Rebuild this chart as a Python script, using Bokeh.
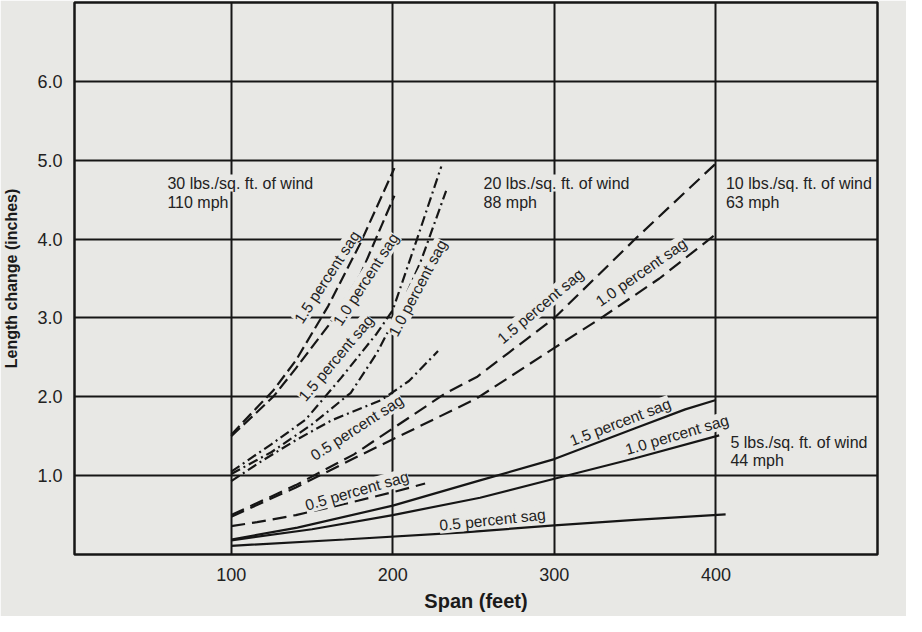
from bokeh.plotting import figure
from bokeh.models import ColumnDataSource, LabelSet, FixedTicker, Range1d
from bokeh.core.properties import value
from bokeh.embed import file_html
from bokeh.resources import INLINE

# ---------------- data ----------------
x_ticks = [100, 200, 300, 400]
x_tick_labels = ["100", "200", "300", "400"]
y_ticks = [1.0, 2.0, 3.0, 4.0, 5.0, 6.0]
y_tick_labels = ["1.0", "2.0", "3.0", "4.0", "5.0", "6.0"]

# 30 lbs./sq. ft. (110 mph) - long dash
w30_s15_x = [100, 126, 140, 160, 180, 201]
w30_s15_y = [1.52, 2.08, 2.46, 3.15, 3.95, 4.90]
w30_s10_x = [100, 126, 140, 160, 180, 201]
w30_s10_y = [1.50, 2.00, 2.36, 2.90, 3.55, 4.55]

# 20 lbs./sq. ft. (88 mph) - dash-dot
w20_s15_x = [100, 125, 146, 168, 190, 200, 215, 230]
w20_s15_y = [1.05, 1.40, 1.71, 2.24, 2.80, 3.10, 4.00, 4.92]
w20_s10_x = [100, 125, 150, 174, 190, 204, 217, 233]
w20_s10_y = [1.02, 1.30, 1.65, 2.05, 2.55, 3.10, 3.70, 4.61]
w20_s05_x = [100, 120, 140, 162, 193, 210, 228]
w20_s05_y = [0.93, 1.20, 1.45, 1.70, 1.96, 2.20, 2.58]

# 10 lbs./sq. ft. (63 mph) - dashed
w10_s15_x = [100, 140, 176, 233, 252, 300, 350, 400]
w10_s15_y = [0.50, 0.88, 1.27, 2.05, 2.25, 3.00, 4.00, 4.96]
w10_s10_x = [100, 140, 176, 252, 300, 329, 365, 401]
w10_s10_y = [0.48, 0.85, 1.22, 1.98, 2.62, 3.00, 3.50, 4.08]
w10_s05_x = [100, 116, 140, 170, 200, 220]
w10_s05_y = [0.36, 0.41, 0.50, 0.64, 0.79, 0.90]

# 5 lbs./sq. ft. (44 mph) - solid
w5_s15_x = [100, 141, 200, 254, 300, 350, 381, 400]
w5_s15_y = [0.19, 0.34, 0.62, 0.94, 1.21, 1.60, 1.84, 1.96]
w5_s10_x = [100, 150, 200, 254, 300, 350, 402]
w5_s10_y = [0.18, 0.32, 0.50, 0.72, 0.96, 1.22, 1.51]
w5_s05_x = [100, 170, 244, 300, 350, 406]
w5_s05_y = [0.11, 0.19, 0.28, 0.37, 0.44, 0.51]

# curve labels
sag_text = ["1.5 percent sag", "1.0 percent sag", "1.5 percent sag", "1.0 percent sag",
            "0.5 percent sag", "0.5 percent sag", "1.5 percent sag", "1.0 percent sag",
            "1.5 percent sag", "1.0 percent sag", "0.5 percent sag"]
sag_x = [159.3, 183.3, 164.8, 215.4, 177.8, 177.8, 291.4, 353.7, 340.7, 375.9, 261.7]
sag_y = [3.52, 3.49, 2.49, 3.38, 1.61, 0.81, 3.15, 3.58, 1.68, 1.52, 0.44]
sag_angle = [57, 57, 50, 62, 33, 16, 40, 35, 21, 16.5, 6]

# wind labels
wind_text = ["30 lbs./sq. ft. of wind", "110 mph",
             "20 lbs./sq. ft. of wind", "88 mph",
             "10 lbs./sq. ft. of wind", "63 mph",
             "5 lbs./sq. ft. of wind", "44 mph"]
wind_x = [60.5, 60.5, 256.2, 256.2, 406.2, 406.2, 409.0, 409.0]
wind_y = [4.71, 4.47, 4.71, 4.47, 4.71, 4.47, 1.42, 1.19]

y_title = "Length change (inches)"
x_title = "Span (feet)"

# ---------------- styling ----------------
BG = "#e8e8e5"
INK = "#161616"
FONT = "Liberation Sans"

p = figure(width=906, height=616, x_range=Range1d(3, 500), y_range=Range1d(0, 7),
           output_backend="svg", toolbar_location=None,
           min_border_left=72, min_border_right=29, min_border_top=2, min_border_bottom=62)
p.background_fill_color = BG
p.border_fill_color = BG
p.outline_line_color = INK
p.outline_line_width = 2.5

p.xaxis.ticker = FixedTicker(ticks=x_ticks)
p.yaxis.ticker = FixedTicker(ticks=y_ticks)
p.xaxis.major_label_overrides = {t: l for t, l in zip(x_ticks, x_tick_labels)}
p.yaxis.major_label_overrides = {t: l for t, l in zip(y_ticks, y_tick_labels)}
for ax in (p.xaxis, p.yaxis):
    ax.axis_line_color = None
    ax.major_tick_line_color = None
    ax.minor_tick_line_color = None
    ax.major_label_text_font = FONT
    ax.major_label_text_font_size = "18px"
    ax.major_label_text_color = "#222222"
    ax.axis_label_text_font = FONT
    ax.axis_label_text_font_style = "bold"
    ax.axis_label_text_color = "#1a1a1a"
p.xaxis.axis_label = x_title
p.xaxis.axis_label_text_font_size = "20px"
p.xaxis.major_label_standoff = 7
p.xaxis.axis_label_standoff = 6
p.yaxis.axis_label = y_title
p.yaxis.axis_label_text_font_size = "16px"
p.yaxis.major_label_standoff = 6
p.yaxis.axis_label_standoff = 14

p.xgrid.ticker = FixedTicker(ticks=x_ticks)
p.ygrid.ticker = FixedTicker(ticks=y_ticks)
for g in (p.xgrid, p.ygrid):
    g.grid_line_color = INK
    g.grid_line_width = 2
    g.grid_line_alpha = 1.0

LONG = "12 5"
DASHDOT = "10 4 2 4"
DASH = "14 7"
curves = [
    (w30_s15_x, w30_s15_y, LONG), (w30_s10_x, w30_s10_y, LONG),
    (w20_s15_x, w20_s15_y, DASHDOT), (w20_s10_x, w20_s10_y, DASHDOT), (w20_s05_x, w20_s05_y, DASHDOT),
    (w10_s15_x, w10_s15_y, DASH), (w10_s10_x, w10_s10_y, DASH), (w10_s05_x, w10_s05_y, DASH),
    (w5_s15_x, w5_s15_y, "solid"), (w5_s10_x, w5_s10_y, "solid"), (w5_s05_x, w5_s05_y, "solid"),
]
for xs, ys, dash in curves:
    p.line(xs, ys, line_color=INK, line_width=2.2, line_dash=dash)

sag_src = ColumnDataSource(dict(x=sag_x, y=sag_y, text=sag_text, angle=sag_angle))
p.add_layout(LabelSet(x="x", y="y", text="text", angle="angle", angle_units="deg",
                      source=sag_src, text_align="center", text_baseline="middle",
                      text_font=value(FONT), text_font_size="15.5px", text_color="#222222",
                      background_fill_color=BG, background_fill_alpha=1.0))

wind_src = ColumnDataSource(dict(x=wind_x, y=wind_y, text=wind_text))
p.add_layout(LabelSet(x="x", y="y", text="text", source=wind_src,
                      text_align="left", text_baseline="middle",
                      text_font=value(FONT), text_font_size="16px", text_color="#222222",
                      background_fill_color=BG, background_fill_alpha=1.0))

open("out.html", "w").write(file_html(p, INLINE))
